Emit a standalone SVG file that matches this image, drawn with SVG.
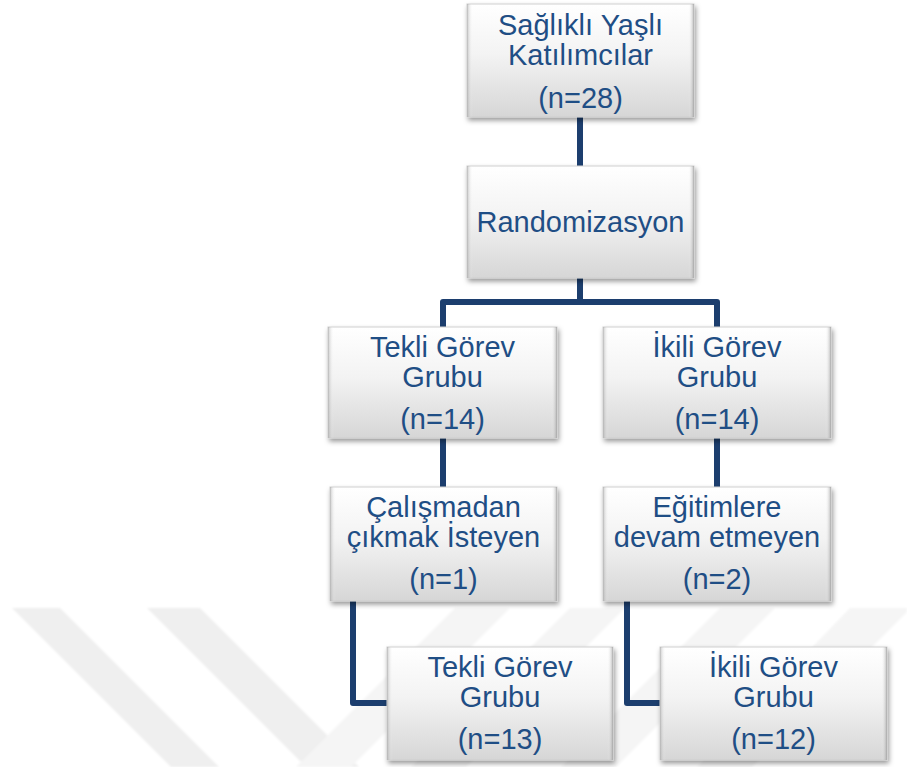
<svg xmlns="http://www.w3.org/2000/svg" width="907" height="767" viewBox="0 0 907 767">
  <defs>
    <linearGradient id="gFill" x1="0" y1="0" x2="0" y2="1">
      <stop offset="0" stop-color="#ffffff"/>
      <stop offset="0.45" stop-color="#f3f3f3"/>
      <stop offset="1" stop-color="#d6d6d6"/>
    </linearGradient>
    <linearGradient id="gEdge" x1="0" y1="0" x2="1" y2="0">
      <stop offset="0" stop-color="#9a9a9a" stop-opacity="0.55"/>
      <stop offset="0.025" stop-color="#ffffff" stop-opacity="0"/>
      <stop offset="0.975" stop-color="#ffffff" stop-opacity="0"/>
      <stop offset="1" stop-color="#8a8a8a" stop-opacity="0.6"/>
    </linearGradient>
    <filter id="shadow" x="-10%" y="-10%" width="125%" height="130%">
      <feDropShadow dx="1.5" dy="3" stdDeviation="2.5" flood-color="#000000" flood-opacity="0.4"/>
    </filter>
    <filter id="soft" x="-5%" y="-5%" width="110%" height="110%">
      <feGaussianBlur stdDeviation="1.2"/>
    </filter>
    <style>
      .box { fill: url(#gFill); stroke: #cfcfcf; stroke-width: 1; filter: url(#shadow); }
      .edge { fill: url(#gEdge); }
      .t { font-family: "Liberation Sans", Arial, sans-serif; font-size: 29px; fill: #1f4e85; text-anchor: middle; }
      .conn { fill: none; stroke: #1c3e6e; stroke-width: 6; stroke-linejoin: round; }
      .wm { fill: #efefef; }
      .wm2 { fill: #f5f5f5; }
    </style>
  </defs>
  <rect width="907" height="767" fill="#ffffff"/>

  <g id="watermark" filter="url(#soft)">
    <polygon class="wm" points="12,608 60,608 219,767 171,767"/>
    <polygon class="wm" points="147,608 200,608 359,767 306,767"/>
    <polygon class="wm2" points="455,608 510,608 351,767 296,767"/>
    <polygon class="wm2" points="570,608 625,608 466,767 411,767"/>
    <polygon class="wm2" points="720,608 775,608 616,767 561,767"/>
    <polygon class="wm2" points="850,608 907,608 907,612 752,767 697,767"/>
  </g>

  <g id="connectors">
    <line class="conn" x1="580" y1="115" x2="580" y2="168"/>
    <path class="conn" d="M580,276 V302 M443,330 V302 H717 V330"/>
    <line class="conn" x1="443" y1="436" x2="443" y2="490"/>
    <line class="conn" x1="717" y1="436" x2="717" y2="490"/>
    <path class="conn" d="M353,599 V703 H390"/>
    <path class="conn" d="M627,599 V703 H663"/>
  </g>

  <g id="n1">
    <rect class="box" x="467" y="4" width="227" height="113"/>
    <rect class="edge" x="467" y="4" width="227" height="113"/>
    <text class="t" x="580.5" y="35">Sağlıklı Yaşlı</text>
    <text class="t" x="580.5" y="65">Katılımcılar</text>
    <text class="t" x="580.5" y="108">(n=28)</text>
  </g>
  <g id="n2">
    <rect class="box" x="467" y="166" width="227" height="112"/>
    <rect class="edge" x="467" y="166" width="227" height="112"/>
    <text class="t" x="580.5" y="232">Randomizasyon</text>
  </g>
  <g id="n3">
    <rect class="box" x="328" y="327" width="229" height="111"/>
    <rect class="edge" x="328" y="327" width="229" height="111"/>
    <text class="t" x="442.5" y="357">Tekli Görev</text>
    <text class="t" x="442.5" y="387">Grubu</text>
    <text class="t" x="442.5" y="429">(n=14)</text>
  </g>
  <g id="n4">
    <rect class="box" x="603" y="327" width="228" height="111"/>
    <rect class="edge" x="603" y="327" width="228" height="111"/>
    <text class="t" x="717" y="357">İkili Görev</text>
    <text class="t" x="717" y="387">Grubu</text>
    <text class="t" x="717" y="429">(n=14)</text>
  </g>
  <g id="n5">
    <rect class="box" x="330" y="487" width="227" height="114"/>
    <rect class="edge" x="330" y="487" width="227" height="114"/>
    <text class="t" x="443.5" y="517">Çalışmadan</text>
    <text class="t" x="443.5" y="547">çıkmak İsteyen</text>
    <text class="t" x="443.5" y="589">(n=1)</text>
  </g>
  <g id="n6">
    <rect class="box" x="603" y="487" width="228" height="114"/>
    <rect class="edge" x="603" y="487" width="228" height="114"/>
    <text class="t" x="717" y="517">Eğitimlere</text>
    <text class="t" x="717" y="547">devam etmeyen</text>
    <text class="t" x="717" y="589">(n=2)</text>
  </g>
  <g id="n7">
    <rect class="box" x="387" y="647" width="226" height="113"/>
    <rect class="edge" x="387" y="647" width="226" height="113"/>
    <text class="t" x="500" y="677">Tekli Görev</text>
    <text class="t" x="500" y="707">Grubu</text>
    <text class="t" x="500" y="749">(n=13)</text>
  </g>
  <g id="n8">
    <rect class="box" x="660" y="647" width="227" height="113"/>
    <rect class="edge" x="660" y="647" width="227" height="113"/>
    <text class="t" x="773.5" y="677">İkili Görev</text>
    <text class="t" x="773.5" y="707">Grubu</text>
    <text class="t" x="773.5" y="749">(n=12)</text>
  </g>
</svg>
